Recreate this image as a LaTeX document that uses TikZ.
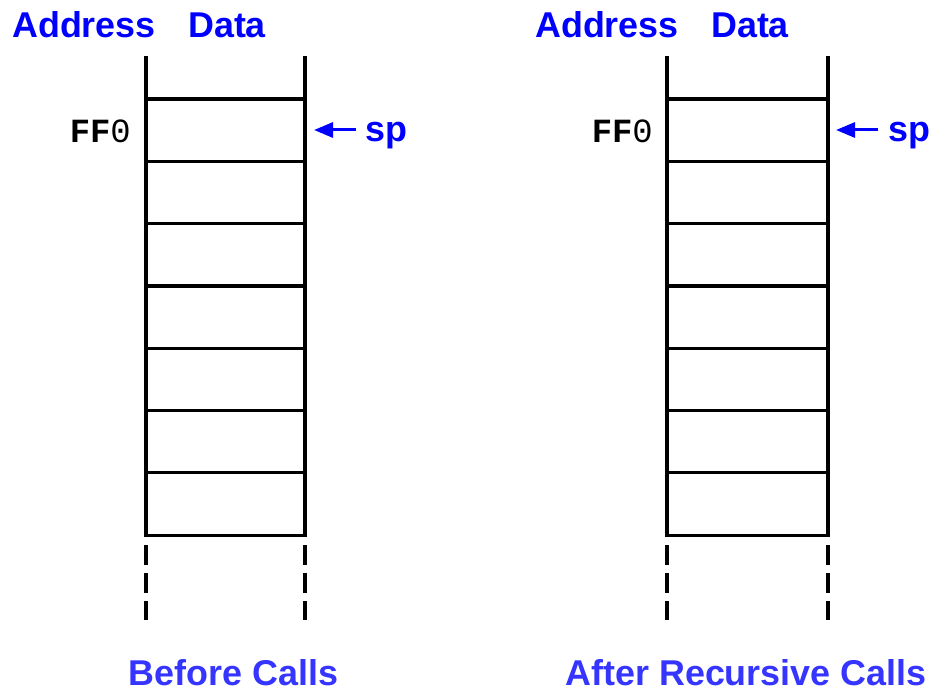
\documentclass[tikz,border=0pt]{standalone}
\usepackage{fontspec}
\setmainfont{Liberation Sans}
\newfontfamily\monofont{Liberation Mono}
\usetikzlibrary{arrows.meta}
\definecolor{headblue}{HTML}{0000FF}
\definecolor{capblue}{HTML}{3535FF}
\tikzset{
  wall/.style={line width=3.2bp, line cap=rect},
  tail/.style={line width=3.2bp, dash pattern=on 20bp off 8bp},
  head/.style={font=\bfseries\fontsize{36}{40}\selectfont, text=headblue, inner sep=0pt},
  caption/.style={font=\bfseries\fontsize{36}{40}\selectfont, text=capblue, inner sep=0pt},
  addr/.style={font=\monofont\fontsize{34}{38}\selectfont, inner sep=0pt},
  pointer/.style={line width=3bp, draw=headblue, -{Triangle[length=19bp,width=15bp]}},
}
% one stack: #1 = name prefix, #2 = left x, #3 = right x
\newcommand{\memstack}[3]{%
  \foreach \k in {0,...,7} {
    \coordinate (#1l\k) at (#2,{99+\k*62.3});
    \coordinate (#1r\k) at (#3,{99+\k*62.3});
  }
  \coordinate (#1lt) at (#2,58);
  \coordinate (#1rt) at (#3,58);
  \coordinate (#1ld) at (#2,545);
  \coordinate (#1rd) at (#3,545);
  \coordinate (#1le) at (#2,620);
  \coordinate (#1re) at (#3,620);
  \draw[wall] (#1lt) -- (#1l7);
  \draw[wall] (#1rt) -- (#1r7);
  \foreach \k in {0,...,7} { \draw[wall] (#1l\k) -- (#1r\k); }
  \draw[tail] (#1ld) -- (#1le);
  \draw[tail] (#1rd) -- (#1re);
}
\begin{document}
\begin{tikzpicture}[x=1bp,y=-1bp]
\useasboundingbox[fill=white] (0,0) rectangle (932,691);

% ---- before the calls ----
\memstack{A}{146}{305}
\node[head, anchor=base west] (Aaddr) at (12,38) {Address};
\node[head, anchor=base west] (Adata) at (188,38) {Data};
\node[addr, anchor=base east] (Aff) at (131,143) {\textbf{FF}0};
\node[head, anchor=base west] (Asp) at (365,142) {sp};
\coordinate (Atip) at (314,130);
\coordinate (Atail) at (356,130);
\draw[pointer] (Atail) -- (Atip);
\node[caption, anchor=base] (Acap) at (233.5,685) {Before Calls};

% ---- after the recursive calls ----
\memstack{B}{667}{828}
\node[head, anchor=base west] (Baddr) at (535,38) {Address};
\node[head, anchor=base west] (Bdata) at (711,38) {Data};
\node[addr, anchor=base east] (Bff) at (653,143) {\textbf{FF}0};
\node[head, anchor=base west] (Bsp) at (888,142) {sp};
\coordinate (Btip) at (836,130);
\coordinate (Btail) at (878,130);
\draw[pointer] (Btail) -- (Btip);
\node[caption, anchor=base] (Bcap) at (746,685) {After Recursive Calls};
\end{tikzpicture}
\end{document}
